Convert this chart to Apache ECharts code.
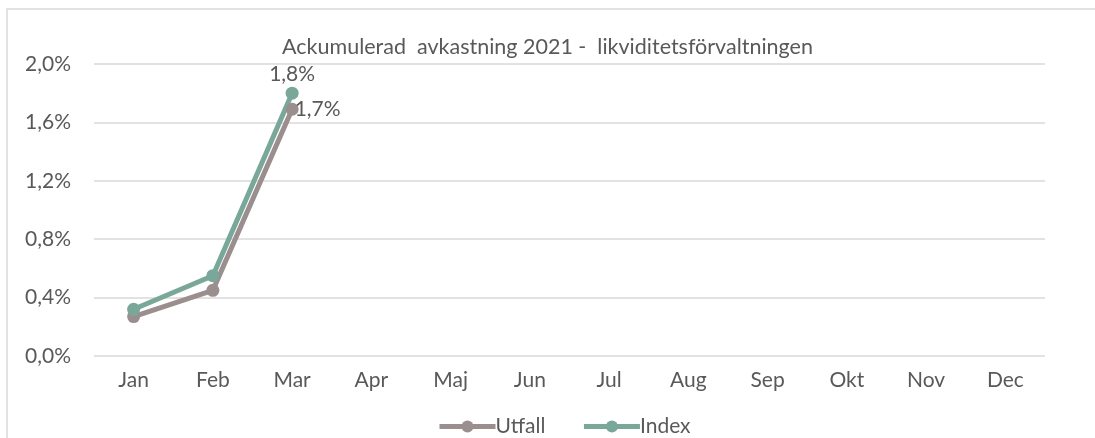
<!DOCTYPE html>
<html>
<head>
<meta charset="utf-8">
<script src="https://cdn.jsdelivr.net/npm/echarts@6/dist/echarts.min.js"></script>
<style>html,body{margin:0;padding:0;background:#fff}#c{width:1095px;height:438px}</style>
</head>
<body>
<div id="c"></div>
<script>
var titleText = 'Ackumulerad  avkastning 2021 -  likviditetsförvaltningen';
var months = ['Jan','Feb','Mar','Apr','Maj','Jun','Jul','Aug','Sep','Okt','Nov','Dec'];
var utfall = [0.27, 0.45, 1.69];
var indexVals = [0.32, 0.55, 1.80];

var FONT = 'Lato';
var FS = 21;
var TXT = '#595959';
var C_UTFALL = '#9b8e8e';
var C_INDEX = '#79a89a';

function pct(v){ return Number(v).toFixed(1).replace('.', ',') + '%'; }

function withLabel(arr, pos, dist){
  return arr.map(function(v, i){
    if (i === arr.length - 1) {
      return {value: v, label: {show: true, position: pos, distance: dist, formatter: function(p){ return pct(p.value); }, color: TXT, fontFamily: FONT, fontSize: FS}};
    }
    return v;
  });
}

var chart = echarts.init(document.getElementById('c'), null, {renderer: 'canvas'});
chart.setOption({
  animation: false,
  backgroundColor: '#fff',
  title: {
    text: titleText, left: 'center', top: 31,
    textStyle: {color: TXT, fontFamily: FONT, fontSize: 21.5, fontWeight: 'normal'}
  },
  graphic: [{
    type: 'polyline', silent: true,
    shape: {points: [[7, 438], [7, 9], [1095, 9]]},
    style: {stroke: '#d9d9d9', lineWidth: 1.5, fill: null}
  }],
  legend: {
    bottom: -4, left: 432, itemGap: 36, itemWidth: 56, itemHeight: 15,
    lineStyle: {width: 5},
    textStyle: {color: TXT, fontFamily: FONT, fontSize: FS, padding: [0,0,0,-5]},
    data: ['Utfall', 'Index']
  },
  grid: {left: 94, right: 50, top: 64, bottom: 82, containLabel: false},
  xAxis: {
    type: 'category', data: months, boundaryGap: true,
    axisLine: {show: false}, axisTick: {show: false},
    axisLabel: {color: TXT, fontFamily: FONT, fontSize: FS, margin: 14}
  },
  yAxis: {
    type: 'value', min: 0, max: 2.0, interval: 0.4,
    axisLine: {show: false}, axisTick: {show: false},
    axisLabel: {color: TXT, fontFamily: FONT, fontSize: FS, margin: 23, formatter: pct},
    splitLine: {lineStyle: {color: '#d9d9d9', width: 1.5}}
  },
  series: [
    {
      name: 'Utfall', type: 'line', data: withLabel(utfall, 'right', -4),
      symbol: 'circle', symbolSize: 13, color: C_UTFALL,
      lineStyle: {color: C_UTFALL, width: 5}, itemStyle: {color: C_UTFALL}
    },
    {
      name: 'Index', type: 'line', data: withLabel(indexVals, 'top', 2),
      symbol: 'circle', symbolSize: 13, color: C_INDEX,
      lineStyle: {color: C_INDEX, width: 5}, itemStyle: {color: C_INDEX}
    }
  ]
});
</script>
</body>
</html>
